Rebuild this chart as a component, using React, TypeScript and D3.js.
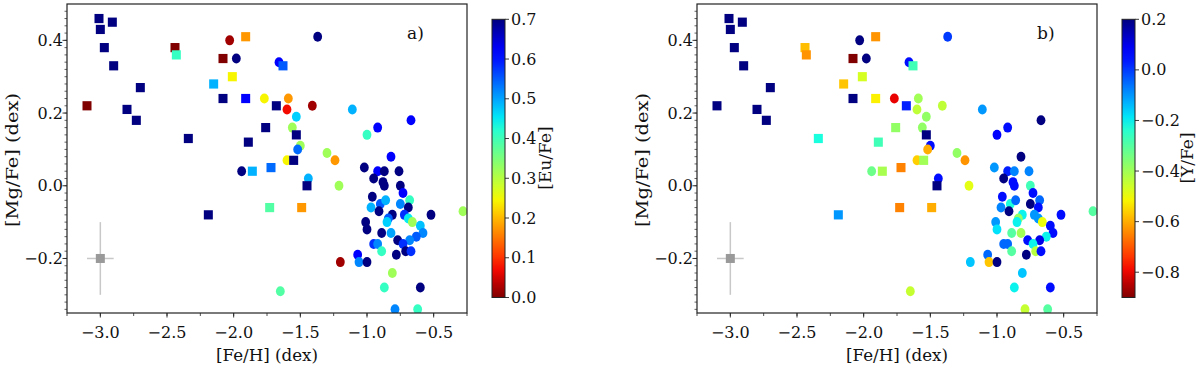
import React from 'react';
import * as d3 from 'd3';

// marker: 's' = square sample, 'o' = circle sample
const marker = [
  's','s','s','s','s','s','s','s','s','s','s','s','s','s','s','s','s','s','s','s','s','s','s','s','s','s','s','s','s','s',
  'o','o','o','o','o','o','o','o','o','o','o','o','o','o','o','o','o','o','o','o','o','o','o','o','o',
  'o','o','o','o','o','o','o','o','o','o','o','o','o','o','o','o','o','o','o','o','o','o','o','o','o',
  'o','o','o','o','o','o','o','o','o','o','o','o','o','o','o','o','o','o','o','o','o','o','o','o'
];

const feh = [
  -3.01, -3.00, -2.91, -2.97, -2.90, -3.10, -2.70, -2.80, -2.73, -2.44,
  -2.43, -2.34, -2.19, -2.15, -2.08, -2.08, -2.01, -1.91, -1.91, -1.89,
  -1.86, -1.76, -1.72, -1.73, -1.68, -1.63, -1.53, -1.55, -1.45, -1.49,
  -2.03, -1.98, -1.66, -1.37, -1.77, -1.59, -1.60, -1.41, -1.53, -1.56,
  -1.50, -1.52, -1.60, -1.94, -1.44, -1.30, -1.24, -1.21, -1.11, -1.65,
  -1.20, -0.67, -0.92, -1.00, -0.82,
  -1.02, -0.92, -0.87, -0.76, -0.95, -0.88, -0.87, -0.75, -0.73, -0.96,
  -0.90, -0.86, -0.97, -0.91, -0.81, -0.75, -0.68, -0.69, -0.72, -0.69,
  -0.66, -0.52, -0.84, -0.85, -1.01, -1.00, -0.89, -0.82, -0.60, -0.58,
  -0.63, -0.68, -0.77, -0.73, -0.95, -0.92, -0.89, -0.78, -0.71, -0.67,
  -1.07, -1.06, -1.00, -0.81, -0.87, -0.60, -0.79, -0.62, -0.28
];

const mgfe = [
  0.46, 0.43, 0.45, 0.38, 0.33, 0.22, 0.27, 0.21, 0.18, 0.38,
  0.36, 0.13, -0.08, 0.28, 0.24, 0.35, 0.30, 0.41, 0.24, 0.12,
  0.04, 0.16, 0.05, -0.06, 0.22, 0.33, 0.14, 0.07, 0.00, -0.06,
  0.40, 0.35, 0.34, 0.41, 0.24, 0.24, 0.21, 0.22, 0.19, 0.16,
  0.11, 0.10, 0.07, 0.04, 0.02, 0.09, 0.07, 0.00, 0.21, -0.29,
  -0.21, 0.18, 0.16, 0.14, 0.08,
  0.05, 0.04, 0.04, 0.04, 0.02, 0.01, 0.00, 0.00, -0.02, -0.03,
  -0.05, -0.04, -0.06, -0.07, -0.08, -0.05, -0.04, -0.06, -0.08, -0.09,
  -0.10, -0.08, -0.09, -0.10, -0.10, -0.12, -0.13, -0.13, -0.11, -0.13,
  -0.14, -0.15, -0.15, -0.16, -0.16, -0.16, -0.18, -0.19, -0.18, -0.18,
  -0.19, -0.21, -0.21, -0.24, -0.28, -0.28, -0.34, -0.34, -0.07
];

const eufe = [
  0.70, 0.70, 0.70, 0.70, 0.70, 0.00, 0.70, 0.70, 0.70, 0.00,
  0.41, 0.70, 0.70, 0.49, 0.70, 0.00, 0.245, 0.175, 0.62, 0.70,
  0.49, 0.70, 0.54, 0.385, 0.70, 0.55, 0.70, 0.70, 0.70, 0.175,
  0.02, 0.70, 0.62, 0.70, 0.245, 0.175, 0.07, 0.02, 0.47, 0.32,
  0.32, 0.54, 0.245, 0.70, 0.49, 0.32, 0.175, 0.32, 0.49, 0.385,
  0.02, 0.62, 0.62, 0.41, 0.62,
  0.70, 0.62, 0.70, 0.70, 0.70, 0.70, 0.70, 0.70, 0.62, 0.70,
  0.55, 0.49, 0.49, 0.70, 0.70, 0.52, 0.41, 0.70, 0.58, 0.45,
  0.32, 0.70, 0.55, 0.47, 0.70, 0.70, 0.70, 0.50, 0.48, 0.52,
  0.55, 0.52, 0.70, 0.58, 0.58, 0.52, 0.41, 0.70, 0.70, 0.58,
  0.62, 0.52, 0.70, 0.32, 0.41, 0.70, 0.52, 0.41, 0.32
];

const yfe = [
  0.20, 0.20, 0.20, 0.20, 0.20, 0.20, 0.20, 0.20, 0.20, -0.58,
  -0.63, -0.22, -0.10, -0.57, 0.20, -0.90, -0.47, -0.63, -0.52, -0.27,
  -0.41, -0.38, -0.65, -0.65, 0.03, -0.27, 0.20, -0.40, 0.20, -0.60,
  0.20, 0.20, 0.05, 0.00, -0.80, -0.40, -0.44, -0.44, -0.38, -0.38,
  0.05, -0.60, -0.56, -0.33, 0.05, -0.38, -0.63, -0.49, -0.10, -0.45,
  -0.15, 0.20, 0.05, 0.08, 0.20,
  -0.10, 0.03, -0.08, -0.08, 0.20, 0.05, 0.05, -0.27, 0.05, 0.05,
  -0.22, -0.05, -0.08, 0.20, -0.20, 0.20, -0.05, 0.05, -0.10, -0.10,
  -0.50, 0.05, -0.38, -0.20, -0.10, -0.18, -0.30, -0.40, 0.05, 0.05,
  -0.20, 0.10, 0.05, -0.20, -0.05, -0.05, -0.30, 0.20, -0.43, 0.05,
  -0.05, -0.57, 0.20, -0.15, -0.20, 0.05, -0.45, -0.30, -0.30
];

const xTicks = [-3.0, -2.5, -2.0, -1.5, -1.0, -0.5];
const yTicks = [-0.2, 0.0, 0.2, 0.4];
const euTicks = [0.0, 0.1, 0.2, 0.3, 0.4, 0.5, 0.6, 0.7];
const yfeTicks = [-0.8, -0.6, -0.4, -0.2, 0.0, 0.2];

const font = "'DejaVu Serif', serif";

// matplotlib "jet" colormap
const jr = d3.scaleLinear<number>().domain([0, 0.35, 0.66, 0.89, 1]).range([0, 0, 1, 1, 0.5]).clamp(true);
const jg = d3.scaleLinear<number>().domain([0, 0.125, 0.375, 0.64, 0.91, 1]).range([0, 0, 1, 1, 0, 0]).clamp(true);
const jb = d3.scaleLinear<number>().domain([0, 0.11, 0.34, 0.65, 1]).range([0.5, 1, 1, 0, 0]).clamp(true);
const jet = (s: number) => d3.rgb(jr(s) * 255, jg(s) * 255, jb(s) * 255).toString();

type PanelProps = {
  ox: number;
  id: string;
  values: number[];
  vmin: number;
  vmax: number;
  cticks: number[];
  clabel: string;
  clabelX: number;
  tag: string;
};

function Panel({ ox, id, values, vmin, vmax, cticks, clabel, clabelX, tag }: PanelProps) {
  const left = 67 + ox, right = 467 + ox, top = 4, bottom = 313;
  const x = d3.scaleLinear().domain([-3.25, -0.25]).range([left, right]);
  const y = d3.scaleLinear().domain([-0.35, 0.5]).range([bottom, top]);
  // reversed jet: high values navy, low values dark red
  const c = d3.scaleLinear().domain([vmin, vmax]).range([1, 0]).clamp(true);
  const cbX = 492 + ox, cbW = 13, cbTop = 19.3, cbBot = 297.5;
  const cy = d3.scaleLinear().domain([vmin, vmax]).range([cbBot, cbTop]);
  const fmt = d3.format('.1f');
  const xMinor = d3.range(-3.25, -0.24, 0.25);
  const yMinor = d3.range(-34, 49, 2).map(d => d / 100);
  const stops = d3.range(0, 1.001, 0.05);

  const order = d3.range(feh.length).sort((a, b) => (marker[a] === marker[b] ? a - b : marker[a] === 'o' ? -1 : 1));

  return (
    <g>
      <defs>
        <linearGradient id={id} x1="0" y1="1" x2="0" y2="0">
          {stops.map(t => (
            <stop key={t} offset={t} stopColor={jet(1 - t)} />
          ))}
        </linearGradient>
        <clipPath id={id + 'clip'}>
          <rect x={left} y={top} width={right - left} height={bottom - top} />
        </clipPath>
      </defs>

      <g clipPath={`url(#${id}clip)`}>
        {/* error bar */}
        <line x1={x(-3.1)} x2={x(-2.9)} y1={y(-0.2)} y2={y(-0.2)} stroke="#c8c8c8" strokeWidth={1.5} />
        <line x1={x(-3.0)} x2={x(-3.0)} y1={y(-0.1)} y2={y(-0.3)} stroke="#c8c8c8" strokeWidth={1.5} />
        <rect x={x(-3.0) - 4.5} y={y(-0.2) - 4.5} width={9} height={9} fill="#999999" />

        {order.map(i =>
          marker[i] === 's' ? (
            <rect key={i} x={x(feh[i]) - 4.5} y={y(mgfe[i]) - 4.6} width={9} height={9.2} fill={jet(c(values[i]))} />
          ) : (
            <ellipse key={i} cx={x(feh[i])} cy={y(mgfe[i])} rx={4.4} ry={5} fill={jet(c(values[i]))} />
          )
        )}
      </g>

      <rect x={left} y={top} width={right - left} height={bottom - top} fill="none" stroke="#222" strokeWidth={1.2} />

      {/* x axis */}
      {xMinor.map(t => (
        <line key={t} x1={x(t)} x2={x(t)} y1={bottom} y2={bottom + 3} stroke="#222" strokeWidth={0.8} />
      ))}
      {xTicks.map(t => (
        <g key={t}>
          <line x1={x(t)} x2={x(t)} y1={bottom} y2={bottom + 4.5} stroke="#222" strokeWidth={0.9} />
          <text x={x(t)} y={338} textAnchor="middle" fontFamily={font} fontSize={16} fill="#111">{fmt(t)}</text>
        </g>
      ))}
      <text x={(left + right) / 2} y={361} textAnchor="middle" fontFamily={font} fontSize={17} fill="#111"
        textLength={102} lengthAdjust="spacingAndGlyphs">[Fe/H] (dex)</text>

      {/* y axis */}
      {yMinor.map(t => (
        <line key={t} x1={left} x2={left - 2.5} y1={y(t)} y2={y(t)} stroke="#222" strokeWidth={0.7} />
      ))}
      {yTicks.map(t => (
        <g key={t}>
          <line x1={left} x2={left - 4.5} y1={y(t)} y2={y(t)} stroke="#222" strokeWidth={0.9} />
          <text x={left - 4} y={y(t)} dy="0.35em" textAnchor="end" fontFamily={font} fontSize={16} fill="#111">{fmt(t)}</text>
        </g>
      ))}
      <text transform={`translate(${18 + ox},160) rotate(-90)`} textAnchor="middle" fontFamily={font} fontSize={17} fill="#111"
        textLength={134} lengthAdjust="spacingAndGlyphs">[Mg/Fe] (dex)</text>

      <text x={x(-0.7)} y={y(0.4) - 1} fontFamily={font} fontSize={17} fill="#111">{tag}</text>

      {/* colour bar */}
      <rect x={cbX} y={cbTop} width={cbW} height={cbBot - cbTop} fill={`url(#${id})`} stroke="#222" strokeWidth={1} />
      {cticks.map(t => (
        <g key={t}>
          <line x1={cbX + cbW} x2={cbX + cbW + 4} y1={cy(t)} y2={cy(t)} stroke="#222" strokeWidth={0.9} />
          <text x={cbX + cbW + 6} y={cy(t)} dy="0.35em" fontFamily={font} fontSize={16} fill="#111">{fmt(t)}</text>
        </g>
      ))}
      <text transform={`translate(${cbX + clabelX},158) rotate(-90)`} textAnchor="middle"
        fontFamily={font} fontSize={17} fill="#111">{clabel}</text>
    </g>
  );
}

export default function App() {
  return (
    <svg width={1200} height={372} style={{ position: 'absolute', left: 0, top: 0, background: '#fff' }}>
      <rect width={1200} height={372} fill="#fff" />
      <Panel ox={0} id="gradEu" values={eufe} vmin={0} vmax={0.7} cticks={euTicks} clabel="[Eu/Fe]" clabelX={59} tag="a)" />
      <Panel ox={630} id="gradY" values={yfe} vmin={-0.9} vmax={0.2} cticks={yfeTicks} clabel="[Y/Fe]" clabelX={71} tag="b)" />
    </svg>
  );
}
